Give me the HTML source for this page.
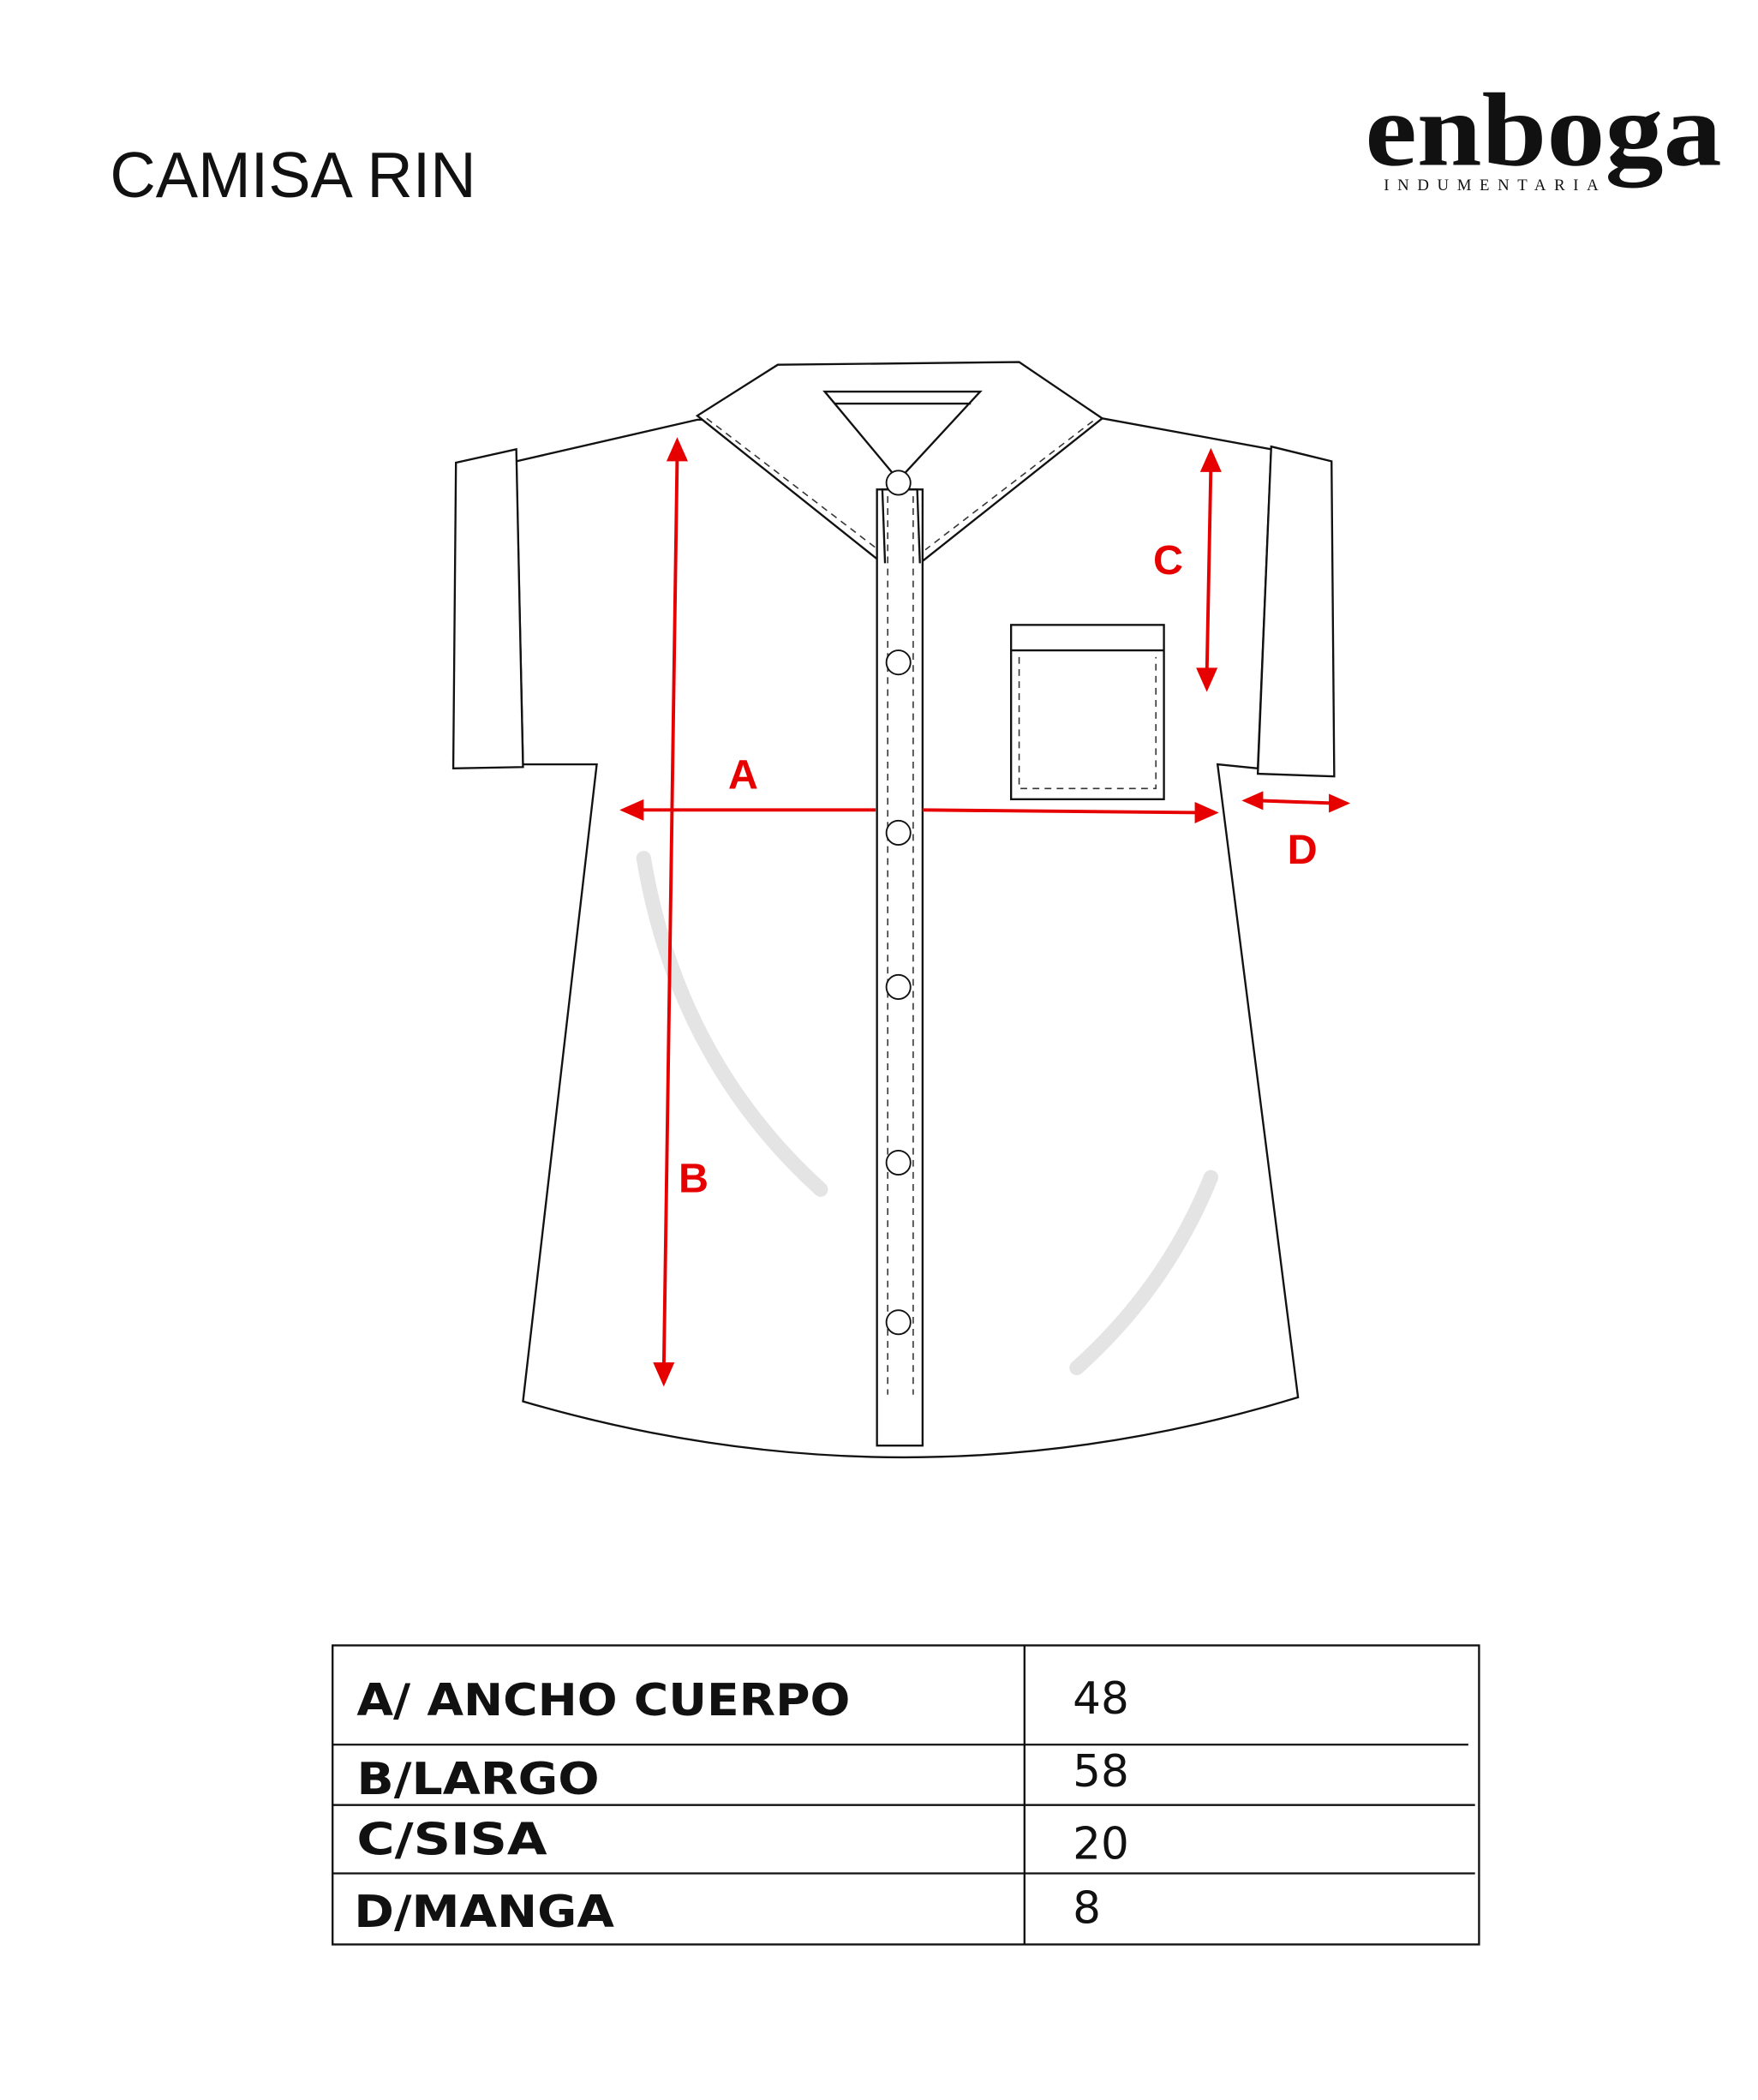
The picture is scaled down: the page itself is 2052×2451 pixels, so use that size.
<!DOCTYPE html>
<html><head><meta charset="utf-8"><style>html,body{margin:0;padding:0;background:#fff}svg{display:block}</style></head><body>
<svg width="2052" height="2451" viewBox="0 0 1311 1566" xmlns="http://www.w3.org/2000/svg">
<rect width="1311" height="1566" fill="#fff"/>
<text x="82" y="147" font-family="Liberation Sans, sans-serif" font-size="48" fill="#111" textLength="273" lengthAdjust="spacingAndGlyphs">CAMISA RIN</text>
<text x="1018" y="123" font-family="Liberation Serif, serif" font-size="78" font-weight="bold" fill="#111" textLength="266" lengthAdjust="spacingAndGlyphs">enboga</text>
<text x="1032" y="142" font-family="Liberation Serif, serif" font-size="12" fill="#111" textLength="160" lengthAdjust="spacing">INDUMENTARIA</text>
<g fill="#fff" stroke="#111" stroke-width="1.5">
<path d="M390,1045 L445,570 L390,570 L385,344 L520,313 L822,312 L948,335 L938,573 L908,570 L968,1042 Q680,1130 390,1045 Z"/>
<path d="M340,345 L385,335 L390,572 L338,573 Z"/>
<path d="M948,333 L993,344 L995,579 L938,577 Z"/>
<path d="M520,310 L580,272 L760,270 L822,312 L686,420 L658,420 Z"/>
<path d="M615,292 L731,292 L670,358 Z"/>
<line x1="622" y1="301" x2="724" y2="301"/>
<rect x="654" y="365" width="34" height="713"/>
<rect x="754" y="466" width="114" height="130"/>
<line x1="754" y1="485" x2="868" y2="485"/>
</g>
<g fill="none" stroke="#333" stroke-width="1" stroke-dasharray="5,4">
<path d="M527,312 L655,410"/><path d="M815,314 L690,410"/>
<line x1="662" y1="370" x2="662" y2="1040"/><line x1="681" y1="370" x2="681" y2="1040"/>
<path d="M760,490 L760,588 L862,588 L862,490"/>
</g>
<path d="M660,420 L658,365 L684,365 L686,420" fill="none" stroke="#111" stroke-width="1.5"/>
<g fill="#fff" stroke="#111" stroke-width="1.2">
<circle cx="670" cy="360" r="9"/><circle cx="670" cy="494" r="9"/><circle cx="670" cy="621" r="9"/><circle cx="670" cy="736" r="9"/><circle cx="670" cy="867" r="9"/><circle cx="670" cy="986" r="9"/>
</g>
<g fill="none" stroke="#e4e4e4" stroke-width="11" stroke-linecap="round">
<path d="M480,640 Q505,790 612,887"/><path d="M803,1020 Q870,960 903,878"/>
</g>
<g stroke="#e60000" stroke-width="2.5" fill="#e60000">
<line x1="505" y1="340" x2="495" y2="1022"/>
<path d="M505,326 L497,344 L513,344 Z" stroke="none"/><path d="M495,1034 L487,1016 L503,1016 Z" stroke="none"/>
<line x1="476" y1="604" x2="653" y2="604"/><path d="M462,604 L480,596 L480,612 Z" stroke="none"/>
<line x1="688" y1="604" x2="895" y2="606"/><path d="M909,606 L891,598 L891,614 Z" stroke="none"/>
<line x1="903" y1="348" x2="900" y2="503"/><path d="M903,334 L895,352 L911,352 Z" stroke="none"/><path d="M900,516 L892,498 L908,498 Z" stroke="none"/>
<line x1="938" y1="597" x2="995" y2="599"/><path d="M926,597 L942,590 L942,604 Z" stroke="none"/><path d="M1007,599 L991,592 L991,606 Z" stroke="none"/>
</g>
<g font-family="Liberation Sans, sans-serif" font-weight="bold" font-size="31" fill="#e60000">
<text x="543" y="588">A</text><text x="506" y="889">B</text><text x="860" y="428">C</text><text x="960" y="644">D</text>
</g>
<g stroke="#111" stroke-width="1.5" fill="none">
<rect x="248" y="1227" width="855" height="223"/>
<line x1="764" y1="1227" x2="764" y2="1450"/>
<line x1="248" y1="1301" x2="1095" y2="1301"/><line x1="248" y1="1346" x2="1100" y2="1346"/><line x1="248" y1="1397" x2="1100" y2="1397"/>
</g>
<g font-family="DejaVu Sans, Liberation Sans, sans-serif" font-size="33" fill="#111">
<text x="266" y="1279" font-weight="bold" textLength="368" lengthAdjust="spacingAndGlyphs">A/ ANCHO CUERPO</text>
<text x="266" y="1338" font-weight="bold" textLength="181" lengthAdjust="spacingAndGlyphs">B/LARGO</text>
<text x="266" y="1383" font-weight="bold" textLength="142" lengthAdjust="spacingAndGlyphs">C/SISA</text>
<text x="264" y="1437" font-weight="bold" textLength="194" lengthAdjust="spacingAndGlyphs">D/MANGA</text>
<text x="800" y="1278">48</text><text x="800" y="1332">58</text><text x="800" y="1386">20</text><text x="800" y="1434">8</text>
</g>
</svg>
</body></html>
